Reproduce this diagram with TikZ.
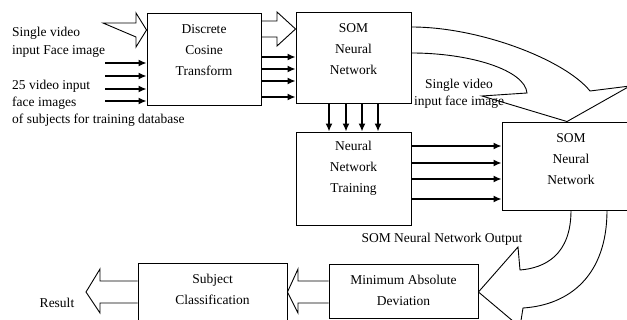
\documentclass[tikz,border=0pt]{standalone}
\usepackage{fontspec}
\setmainfont{Liberation Serif}
\usetikzlibrary{arrows.meta}
\begin{document}
\begin{tikzpicture}[x=1pt,y=-1pt,
  box/.style={draw, line width=0.9pt, inner sep=0pt},
  lbl/.style={align=center, font=\fontsize{13.5}{21}\selectfont, inner sep=0pt},
  sidelbl/.style={align=left, font=\fontsize{13.5}{17}\selectfont, inner sep=0pt},
  midlbl/.style={align=center, font=\fontsize{13.5}{17}\selectfont, inner sep=0pt},
  thinarr/.style={line width=1.5pt, -{Latex[length=8pt,width=7pt]}},
  blockarr/.style={draw, line width=0.9pt, line join=miter}]
\useasboundingbox (0,0) rectangle (627,320);
\clip (0,0) rectangle (627,320);

% boxes
\node[box, minimum width=114pt, minimum height=92pt] (dct) at (204,59) {};
\node[box, minimum width=115pt, minimum height=91pt] (som1) at (353.5,57.5) {};
\node[box, minimum width=115pt, minimum height=93pt] (nnt) at (353.5,178.5) {};
\node[box, minimum width=138pt, minimum height=88pt] (som2) at (571,166) {};
\node[box, minimum width=149pt, minimum height=54pt] (mad) at (403.5,291) {};
\node[box, minimum width=149pt, minimum height=67pt] (sub) at (212.5,296.5) {};

% box texts
\node[lbl] (dcttxt) at (204,50) {Discrete\\Cosine\\Transform};
\node[lbl] (som1txt) at (353.5,49) {SOM\\Neural\\Network};
\node[lbl] (nnttxt) at (353.5,168.5) {Neural\\Network\\Training};
\node[lbl] (som2txt) at (571,159) {SOM\\Neural\\Network};
\node[lbl] (madtxt) at (403.5,290.5) {Minimum Absolute\\Deviation};
\node[lbl] (subtxt) at (212.5,289) {Subject\\Classification};

% thin arrows
\foreach \yy in {63,76,89,101}
  \draw[thinarr] (105,\yy) -- (dct.west |- 0,\yy);
\foreach \yy in {57,69,81,97}
  \draw[thinarr] (dct.east |- 0,\yy) -- (som1.west |- 0,\yy);
\foreach \xx in {329,346,362,378}
  \draw[thinarr] (som1.south -| \xx,0) -- (nnt.north -| \xx,0);
\foreach \yy in {146,163,179,199}
  \draw[thinarr] (nnt.east |- 0,\yy) -- (som2.west |- 0,\yy);

% block arrows
\draw[blockarr] (103,23) -- (136,23) -- (136,13) -- (dct.west |- 0,30) -- (136,47) -- (136,37) -- cycle;
\draw[blockarr] (dct.east |- 0,21) -- (277,21) -- (277,12) -- (som1.west |- 0,29) -- (277,46) -- (277,37) -- (dct.east |- 0,37);
\draw[blockarr] (mad.west |- 0,281) -- (298,281) -- (298,269) -- (sub.east |- 0,292) -- (298,313) -- (298,303) -- (mad.west |- 0,303);
\coordinate (restip) at (86,292);
\draw[blockarr] (sub.west |- 0,281) -- (100,281) -- (100,269) -- (restip) -- (100,313) -- (100,303) -- (sub.west |- 0,303);

% curved arrows
\draw[blockarr] (som1.east |- 0,27) .. controls (480,27) and (565,60) .. (590,91)
  -- (630,86) -- (som2.north -| 567,0) -- (482,96) -- (527,93)
  .. controls (525,70) and (470,53) .. (som1.east |- 0,53);
\draw[blockarr] (som2.south -| 571,0) .. controls (571,255) and (545,268) .. (520,270)
  -- (518,247) -- (mad.east |- 0,292) -- (520,327) -- (523,308)
  .. controls (570,305) and (607,275) .. (som2.south -| 607,0);

% free texts
\node[sidelbl, anchor=west, font=\fontsize{13.5}{18}\selectfont] (t1) at (12,42) {Single video\\input Face image};
\node[sidelbl, anchor=west] (t2) at (12,103) {25 video input\\face images\\of subjects for training database};
\node[midlbl] (t3) at (459,93.5) {Single video\\input face image};
\node[midlbl] (t4) at (442,239) {SOM Neural Network Output};
\node[midlbl] (t5) at (57,303) {Result};
\end{tikzpicture}
\end{document}
